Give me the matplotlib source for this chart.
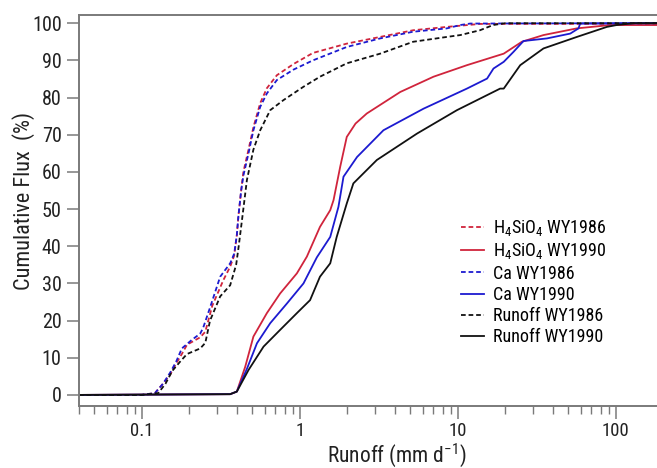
import matplotlib
matplotlib.use("Agg")
import matplotlib.pyplot as plt
from matplotlib import font_manager as fm
from matplotlib.ticker import LogLocator, NullFormatter, FixedLocator, FixedFormatter

# pick a condensed sans family similar to the reference
_installed = {f.name for f in fm.fontManager.ttflist}
FONT = 'DejaVu Sans'
for cand in ['Roboto Condensed', 'Archivo Narrow', 'Liberation Sans Narrow', 'PT Sans Narrow',
             'IBM Plex Sans Condensed', 'Open Sans Condensed']:
    if cand in _installed:
        FONT = cand
        break
plt.rcParams['font.family'] = [FONT, 'DejaVu Sans']
plt.rcParams['mathtext.fontset'] = 'custom'
plt.rcParams['mathtext.rm'] = FONT
plt.rcParams['mathtext.it'] = FONT
plt.rcParams['mathtext.default'] = 'rm'

# ---- data (runoff in mm/d, cumulative flux in %) ----
si86_x = [0.04, 0.10, 0.121, 0.136, 0.151, 0.165, 0.179, 0.193, 0.234, 0.252, 0.279, 0.328,
          0.362, 0.384, 0.399, 0.408, 0.425, 0.439, 0.473, 0.508, 0.561, 0.618, 0.715, 0.910,
          1.21, 1.98, 3.22, 5.21, 8.51, 13.8, 30.0, 200.0]
si86_y = [0, 0, 0.5, 3, 5.5, 8.5, 11, 13.5, 15.5, 17, 24, 30.9,
          34.5, 37.5, 43, 48, 55, 60, 66, 72, 78.5, 82.5, 86, 89,
          92, 94.5, 96.3, 98.1, 99, 99.8, 99.8, 99.8]

si90_x = [0.04, 0.362, 0.399, 0.451, 0.508, 0.618, 0.750, 0.957, 1.107, 1.34, 1.556, 1.633,
          1.80, 1.98, 2.25, 2.65, 4.32, 7.01, 11.4, 19.5, 25.4, 34.8, 56.6, 92.0, 200.0]
si90_y = [0, 0.2, 0.9, 7.6, 15.7, 22, 27.3, 32.7, 37.2, 45.2, 49.7, 52.4,
          61.4, 69.4, 73, 75.7, 81.5, 85.6, 88.7, 91.8, 95, 96.8, 98.6, 99.5, 99.5]

ca86_x = [0.04, 0.10, 0.121, 0.136, 0.151, 0.165, 0.179, 0.207, 0.234, 0.244, 0.270, 0.313,
          0.362, 0.384, 0.399, 0.408, 0.425, 0.439, 0.473, 0.508, 0.561, 0.618, 0.715, 0.910,
          1.21, 1.98, 3.22, 5.21, 8.51, 10.35, 11.96, 200.0]
ca86_y = [0, 0, 0.5, 3, 6, 9, 12.5, 14.8, 16.5, 18, 23.5, 31.8,
          35.4, 38, 43, 48, 55, 59, 65, 71.2, 77.5, 81.1, 84.7, 87.5,
          90, 93.6, 95.9, 97.7, 98.6, 99.5, 99.9, 100]

ca90_x = [0.04, 0.362, 0.399, 0.462, 0.535, 0.649, 0.828, 1.054, 1.28, 1.556, 1.754, 1.888,
          2.30, 3.38, 6.06, 11.4, 15.3, 16.8, 19.5, 22.5, 26.0, 36.6, 51.4, 58.0, 59.4, 200.0]
ca90_y = [0, 0.2, 0.9, 7, 13.9, 19.3, 24.6, 30, 37, 42.5, 50.6, 58.7,
          64, 71.2, 77, 82.4, 85.1, 87.8, 89.6, 92.3, 95.2, 95.9, 97.2, 98.6, 99.9, 100]

ro86_x = [0.04, 0.10, 0.127, 0.141, 0.156, 0.175, 0.193, 0.234, 0.252, 0.270, 0.313, 0.362,
          0.395, 0.410, 0.430, 0.462, 0.508, 0.561, 0.649, 0.787, 1.054, 1.34, 1.98, 3.22,
          5.21, 8.51, 10.35, 13.8, 16.7, 19.9, 200.0]
ro86_y = [0, 0, 0.5, 3, 6.5, 9, 11, 12.5, 14, 20, 26.5, 29.5,
          35, 40, 47, 57.8, 66, 71.2, 76.6, 79.3, 82.9, 85.6, 89.2, 91.8,
          95, 96.3, 96.8, 98.1, 99.5, 100, 100]

ro90_x = [0.04, 0.362, 0.399, 0.473, 0.589, 0.750, 0.957, 1.16, 1.34, 1.556, 1.71, 1.98,
          2.18, 3.07, 5.51, 9.86, 18.5, 19.5, 24.8, 34.8, 56.6, 87.7, 101.0, 130.0, 200.0]
ro90_y = [0, 0.2, 0.9, 6.7, 13, 17.5, 22, 25.5, 31.8, 35.4, 42.5, 51.5,
          56.9, 63.2, 70.3, 76.6, 82.4, 82.4, 88.7, 93.2, 96.3, 99, 99.5, 100, 100]

labels = [r'H$_4$SiO$_4$ WY1986', r'H$_4$SiO$_4$ WY1990', 'Ca WY1986', 'Ca WY1990',
          'Runoff WY1986', 'Runoff WY1990']

yticks = [0, 10, 20, 30, 40, 50, 60, 70, 80, 90, 100]
xticks = [0.1, 1, 10, 100]
xticklabels = ['0.1', '1', '10', '100']

RED = '#d0243c'
BLUE = '#1c1ad0'
BLACK = '#111111'
GRAY = '#7a7a7a'

fig = plt.figure(figsize=(6.57, 4.68), dpi=100)
ax = fig.add_axes([79 / 657, (468 - 405.7) / 468, 1 - 79 / 657, (405.7 - 15) / 468])

dash = (2.6, 1.6)
lw = 1.3
series = [
    (si86_x, si86_y, RED, True),
    (si90_x, si90_y, RED, False),
    (ca86_x, ca86_y, BLUE, True),
    (ca90_x, ca90_y, BLUE, False),
    (ro86_x, ro86_y, BLACK, True),
    (ro90_x, ro90_y, BLACK, False),
]
for (xs, ys, c, dashed), lab in zip(series, labels):
    if dashed:
        ax.plot(xs, ys, color=c, lw=lw, linestyle=(0, dash), label=lab)
    else:
        ax.plot(xs, ys, color=c, lw=lw, label=lab)

ax.set_xscale('log')
ax.set_xlim(0.04, 182)
ax.set_ylim(-2.9, 102.2)

ax.xaxis.set_major_locator(FixedLocator(xticks))
ax.xaxis.set_major_formatter(FixedFormatter(xticklabels))
ax.xaxis.set_minor_locator(LogLocator(base=10, subs=range(2, 10), numticks=20))
ax.xaxis.set_minor_formatter(NullFormatter())
ax.set_yticks(yticks)

for s in ['left', 'bottom', 'top']:
    ax.spines[s].set_color(GRAY)
    ax.spines[s].set_linewidth(1.4)
ax.spines['right'].set_visible(False)

ax.tick_params(axis='both', which='major', direction='out', length=9, width=1.1,
               color=GRAY, labelsize=14.5, labelcolor='#222222')
ax.tick_params(axis='y', which='major', pad=3.5)
ax.tick_params(axis='x', which='major', pad=3, labelsize=13.5)
ax.tick_params(axis='x', which='minor', direction='out', length=5.5, width=1.0, color=GRAY)

ax.set_ylabel('Cumulative Flux  (%)', fontsize=16, color='#222222')
ax.yaxis.set_label_coords(-0.076, (405.7 - 201) / (405.7 - 15))
ax.set_xlabel(r'Runoff (mm d$^{-1}$)', fontsize=15.5, color='#222222', va='baseline')
ax.xaxis.set_label_coords((397 - 79) / (657 - 79), -(461.5 - 405.7) / 390.7)

leg = ax.legend(loc='upper left', bbox_to_anchor=((454 - 79) / 578, (405.7 - 211) / 390.7),
                frameon=False, fontsize=13, handlelength=1.25, handletextpad=0.5,
                labelspacing=0.18, borderaxespad=0)

fig.savefig('out.png', dpi=100)
